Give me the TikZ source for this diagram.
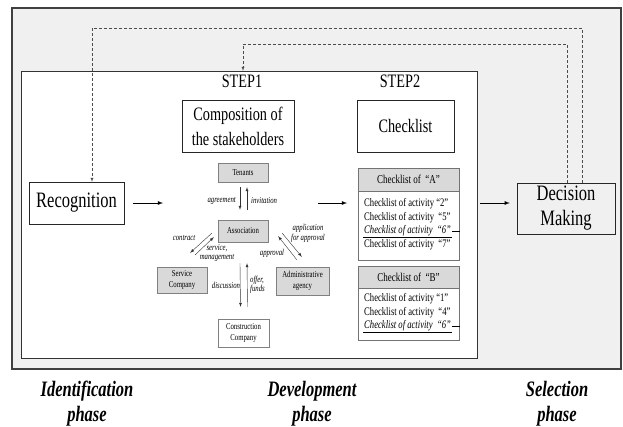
\documentclass[tikz,border=0pt]{standalone}
\usepackage{fontspec}
\setmainfont[FakeStretch=0.75]{Liberation Serif}
\usetikzlibrary{arrows}

\begin{document}
\begin{tikzpicture}[x=1pt,y=-1pt]
	% STYLES
	\tikzstyle{boite} = [draw=black!85, thin, inner sep=0pt, align=center]
	\tikzstyle{grande} = [font=\fontsize{22}{25}\selectfont]
	\tikzstyle{moyenne} = [font=\fontsize{19}{25}\selectfont]
	\tikzstyle{acteur} = [draw=black!50, fill=black!15, inner sep=0pt, align=center, font=\fontsize{9}{10.5}\selectfont]
	\tikzstyle{etiquette} = [inner sep=0pt, align=center, font=\fontsize{9}{9.5}\selectfont\itshape]
	\tikzstyle{liste} = [draw=black!55, thin, inner sep=0pt]
	\tikzstyle{entete} = [draw=black!55, fill=black!15, inner sep=0pt, font=\fontsize{12}{14}\selectfont]
	\tikzstyle{ligne} = [inner sep=1pt, anchor=west, font=\fontsize{11.5}{13}\selectfont]
	\tikzstyle{fleche} = [thick, -latex, draw=black]
	\tikzstyle{petitefleche} = [thin, -latex, draw=black!80]
	\tikzstyle{retour} = [thin, densely dashed, draw=black!70]
	\tikzstyle{phase} = [align=center, font=\fontsize{22}{25}\selectfont\bfseries\itshape]

	\useasboundingbox (0,0) rectangle (623,427);

	% CADRES
	\node[draw=black!75, line width=1.2pt, fill=black!6, minimum width=609pt, minimum height=361pt, inner sep=0pt] at (316.5,188.5) (fond) {};
	\node[draw=black!80, fill=white, minimum width=456pt, minimum height=287pt, inner sep=0pt] at (249,214.5) (cadre) {};

	% NOEUDS
	\node[boite, grande, minimum width=95pt, minimum height=42pt] at (76.5,203) (reco) {Recognition};
	\node[boite, grande, minimum width=98pt, minimum height=51pt] at (566,208.5) (dm) {Decision\\Making};

	\node[moyenne] at (242,81) (step1) {STEP1};
	\node[moyenne] at (400,81) (step2) {STEP2};
	\node[boite, moyenne, minimum width=112pt, minimum height=52pt] at (238,126) (compo) {Composition of\\the stakeholders};
	\node[boite, moyenne, minimum width=97pt, minimum height=52pt] at (405.5,126) (check) {Checklist};

	% ACTEURS
	\node[acteur, minimum width=50pt, minimum height=19pt] at (243,172.5) (tenants) {Tenants};
	\node[acteur, minimum width=50pt, minimum height=22pt] at (243,231) (asso) {Association};
	\node[acteur, minimum width=50pt, minimum height=26pt] at (182,280) (service) {Service\\Company};
	\node[acteur, minimum width=53pt, minimum height=28pt] at (302.5,281) (admin) {Administrative\\agency};
	\node[acteur, fill=white, minimum width=51pt, minimum height=28pt] at (243.5,333) (constr) {Construction\\Company};

	\path[petitefleche] ([shift={(-3,5)}]tenants.south) -- ([shift={(-3,-10)}]asso.north);
	\path[petitefleche] ([shift={(4,-10)}]asso.north) -- ([shift={(4,5)}]tenants.south);
	\path[petitefleche] ([shift={(-3,21)}]asso.south) -- ([shift={(-3,-12)}]constr.north);
	\path[petitefleche] ([shift={(4,-12)}]constr.north) -- ([shift={(4,21)}]asso.south);
	\path[petitefleche] ([shift={(-6,-9)}]asso.south west) -- ([shift={(-17,-14)}]service.north east);
	\path[petitefleche] ([shift={(-12,-12)}]service.north east) -- ([shift={(-4,-5)}]asso.south west);
	\path[petitefleche] ([shift={(14,-9)}]asso.south east) -- ([shift={(26,-10)}]admin.north west);
	\path[petitefleche] ([shift={(21,-7)}]admin.north west) -- ([shift={(10,-6)}]asso.south east);

	\node[etiquette, anchor=east] at (236,201) (lagree) {agreement};
	\node[etiquette, anchor=west] at (251,201) (linvit) {invitation};
	\node[etiquette] at (184,238) (lcontr) {contract};
	\node[etiquette] at (217,253) (lserv) {service,\\management};
	\node[etiquette] at (308,233.5) (lappli) {application\\for approval};
	\node[etiquette] at (272,253) (lappro) {approval};
	\node[etiquette] at (226,285) (ldisc) {discussion};
	\node[etiquette, anchor=west, align=left] at (250,285) (loffre) {offer,\\funds};

	% LISTES
	\node[liste, minimum width=101pt, minimum height=92pt] at (408.5,214) (listeA) {};
	\node[entete, minimum width=101pt, minimum height=23pt, anchor=north] at (listeA.north) (enteteA) {Checklist of \ “A”};
	\node[ligne] at (363,204) (a2) {Checklist of activity “2”};
	\node[ligne] at (363,218) (a5) {Checklist of activity \ “5”};
	\node[ligne, font=\fontsize{11.5}{13}\selectfont\itshape] at (363,231) (a6) {Checklist of activity \ “6”};
	\node[ligne] at (363,245) (a7) {Checklist of activity \ “7”};
	\draw[thin] (a6.south west) -- (a6.south east);
	\draw[thin] (a6.east) -- ++(8,0);

	\node[liste, minimum width=101pt, minimum height=74pt] at (408.5,303) (listeB) {};
	\node[entete, minimum width=101pt, minimum height=22pt, anchor=north] at (listeB.north) (enteteB) {Checklist of \ “B”};
	\node[ligne] at (363,299) (b1) {Checklist of activity “1”};
	\node[ligne] at (363,313) (b4) {Checklist of activity \ “4”};
	\node[ligne, font=\fontsize{11.5}{13}\selectfont\itshape] at (363,326) (b6) {Checklist of activity \ “6”};
	\draw[thin] (b6.south west) -- (b6.south east);
	\draw[thin] (b6.east) -- ++(8,0);

	% FLECHES
	\coordinate (e1) at (163,203);
	\coordinate (m1) at (318,203);
	\coordinate (m2) at (347,203);
	\coordinate (s1) at (480,203);
	\path[fleche] (reco.east) ++(9,0) -- (e1);
	\path[fleche] (m1) -- (m2);
	\path[fleche, shorten >=7pt] (s1) -- (s1 -| dm.west);

	% RETOURS
	\coordinate (h1) at (92,28);
	\coordinate (h2) at (243,44);
	\path[retour, -latex] ([xshift=16]dm.north) |- (h1) -- (h1 |- reco.north);
	\path[retour, -latex] ([xshift=1]dm.north) |- (h2) -- (h2 |- cadre.north);

	% PHASES
	\node[phase] at (87,403.5) (pid) {Identification\\phase};
	\node[phase] at (312,403.5) (pdev) {Development\\phase};
	\node[phase] at (557,403.5) (psel) {Selection\\phase};
\end{tikzpicture}
\end{document}
